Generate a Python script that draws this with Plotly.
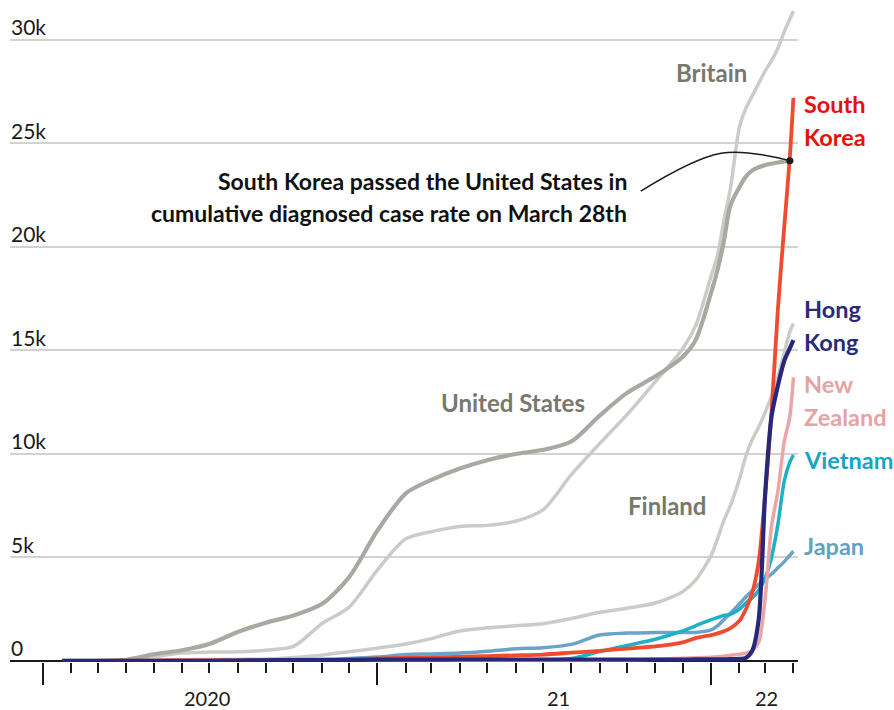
import pandas as pd
import plotly.graph_objects as go

# cumulative diagnosed cases per 100k people
DATES = [
    "2020-01-22", "2020-03-01", "2020-04-01", "2020-05-01", "2020-06-01", "2020-07-01",
    "2020-08-01", "2020-09-01", "2020-10-01", "2020-11-01", "2020-12-01", "2021-01-01",
    "2021-02-01", "2021-03-01", "2021-04-01", "2021-05-01", "2021-06-01", "2021-07-01",
    "2021-08-01", "2021-09-01", "2021-10-01", "2021-11-01", "2021-12-01", "2021-12-15",
    "2022-01-01", "2022-01-08", "2022-01-15", "2022-01-22", "2022-02-01", "2022-02-08",
    "2022-02-15", "2022-02-22", "2022-03-01", "2022-03-08", "2022-03-15", "2022-03-22",
    "2022-03-28", "2022-04-01",
]
UNITED_STATES = [
    0, 10, 60, 320, 520, 820, 1400, 1850, 2200, 2750, 4050, 6300,
    8100, 8750, 9300, 9700, 10000, 10200, 10600, 11850, 12950, 13750, 14700, 15500,
    17800, 18900, 20300, 22000, 22900, 23400, 23700, 23850, 23950, 24020, 24080, 24130,
    24170, 24200,
]
BRITAIN = [
    0, 5, 40, 200, 380, 430, 450, 520, 700, 1800, 2600, 4400,
    5900, 6250, 6500, 6550, 6750, 7300, 9000, 10500, 11900, 13500, 15100, 16200,
    18600, 19600, 21300, 22800, 25800, 26700, 27300, 27900, 28500, 29000, 29600, 30400,
    31000, 31400,
]
FINLAND = [
    0, 0, 10, 30, 60, 70, 80, 100, 170, 280, 450, 620,
    820, 1080, 1450, 1600, 1700, 1800, 2050, 2350, 2550, 2800, 3350, 3900,
    5100, 5900, 6800, 7500, 8800, 9900, 10700, 11300, 12000, 12800, 13700, 14900,
    15900, 16300,
]
SOUTH_KOREA = [
    0, 8, 19, 21, 22, 25, 28, 38, 45, 52, 65, 120,
    150, 175, 200, 235, 270, 310, 400, 490, 600, 700, 900, 1100,
    1250, 1330, 1430, 1580, 1950, 2500, 3300, 4800, 8000, 12000, 17000, 21000,
    24300, 27200,
]
HONG_KONG = [
    0, 0, 5, 8, 8, 10, 20, 35, 40, 45, 50, 60,
    65, 65, 70, 70, 70, 70, 70, 70, 70, 70, 70, 75,
    75, 75, 80, 85, 100, 150, 500, 2000, 8000, 11800, 13300, 14500,
    15100, 15500,
]
NEW_ZEALAND = [
    0, 0, 10, 15, 15, 15, 15, 18, 18, 18, 20, 20,
    20, 20, 22, 22, 22, 22, 22, 40, 50, 80, 130, 160,
    180, 200, 230, 280, 320, 380, 500, 900, 3000, 6500, 8200, 10600,
    11800, 13700,
]
VIETNAM = [
    0, 0, 0, 0, 0, 0, 1, 1, 1, 1, 1, 2,
    2, 3, 3, 3, 6, 20, 120, 450, 750, 1050, 1450, 1700,
    2000, 2100, 2200, 2250, 2500, 2800, 3050, 3400, 4000, 5000, 6600, 8700,
    9600, 9950,
]
JAPAN = [
    0, 1, 2, 10, 14, 15, 25, 55, 70, 80, 120, 190,
    310, 340, 380, 470, 590, 640, 800, 1250, 1350, 1370, 1375, 1380,
    1500, 1700, 2000, 2300, 2750, 3100, 3400, 3700, 3950, 4200, 4500, 4800,
    5100, 5300,
]

Y_TICKS = [0, 5000, 10000, 15000, 20000, 25000, 30000]
Y_TICK_TEXT = ["0", "5k", "10k", "15k", "20k", "25k", "30k"]
YEAR_LABELS = ["2020", "21", "22"]
YEAR_LABEL_DATES = ["2020-06-28", "2021-07-18", "2022-03-02"]

CROSSING_DATE = "2022-03-28"
CROSSING_VALUE = 24170
NOTE_LINES = ["South Korea passed the United States in",
              "cumulative diagnosed case rate on March 28th"]

FONT = "Lato, Open Sans, sans-serif"
GREY_TEXT = "#78786e"

# name, values, line colour, width, label lines, label colour, label placement
SERIES = [
    ("Finland", FINLAND, "#cbcbc7", 3.5, ["Finland"], GREY_TEXT, ("in", "2021-11-14", 7500)),
    ("Britain", BRITAIN, "#cbcbc7", 3.5, ["Britain"], GREY_TEXT, ("in", "2022-01-01", 28450)),
    ("United States", UNITED_STATES, "#a9a9a4", 4.2, ["United States"], GREY_TEXT, ("in", "2021-05-29", 12480)),
    ("Japan", JAPAN, "#6ba3c8", 3.5, ["Japan"], "#62a0c6", ("right", None, 5560)),
    ("Vietnam", VIETNAM, "#1fb0c9", 3.5, ["Vietnam"], "#14a4c4", ("right", None, 9730)),
    ("New Zealand", NEW_ZEALAND, "#eaa6a6", 3.5, ["New", "Zealand"], "#e5a3a3", ("right", None, 12600)),
    ("South Korea", SOUTH_KOREA, "#f04a2f", 3.8, ["South", "Korea"], "#e3120b", ("right", None, 26100)),
    ("Hong Kong", HONG_KONG, "#28287a", 4.2, ["Hong", "Kong"], "#2b2a78", ("right", None, 16230)),
]

LINE_GAP = 33

fig = go.Figure()
for name, values, color, width, lines, label_color, place in SERIES:
    fig.add_trace(
        go.Scatter(
            x=pd.to_datetime(DATES),
            y=values,
            mode="lines",
            name=name,
            line=dict(color=color, width=width, shape="spline", smoothing=0.8),
            hoverinfo="skip",
            showlegend=False,
        )
    )
    kind, x_pos, y_pos = place
    n = len(lines)
    for i, text in enumerate(lines):
        shift = ((n - 1) / 2 - i) * LINE_GAP
        if kind == "right":
            fig.add_annotation(x=1, xref="paper", xanchor="left", xshift=4, y=y_pos, yref="y",
                               yshift=shift, text=text, showarrow=False,
                               font=dict(family=FONT, size=23.5, color=label_color, weight="bold"))
        else:
            fig.add_annotation(x=x_pos, y=y_pos, yshift=shift, text=text, showarrow=False,
                               xanchor="center", font=dict(family=FONT, size=24, color=label_color, weight="bold"))

# leader line from the note to the crossing point
fig.add_trace(
    go.Scatter(
        x=["2021-10-16", "2022-01-12", CROSSING_DATE],
        y=[22700, 24530, CROSSING_VALUE],
        mode="lines",
        line=dict(color="#1a1a1a", width=1.5, shape="spline", smoothing=1.0),
        hoverinfo="skip",
        showlegend=False,
    )
)
fig.add_trace(
    go.Scatter(
        x=[CROSSING_DATE], y=[CROSSING_VALUE], mode="markers",
        marker=dict(color="#1a1a1a", size=7),
        hoverinfo="skip", showlegend=False,
    )
)
for i, text in enumerate(NOTE_LINES):
    fig.add_annotation(x="2021-10-03", y=22400, yshift=(0.5 - i) * 32, text=text, showarrow=False,
                       xanchor="right", font=dict(family=FONT, size=23, color="#111111", weight="bold"))

# year labels sit midway under each year, value labels sit on top of their gridlines
for label, when in zip(YEAR_LABELS, YEAR_LABEL_DATES):
    fig.add_annotation(x=when, y=0, yref="paper", yshift=-36, text=label, showarrow=False,
                       xanchor="center", yanchor="middle", font=dict(family=FONT, size=20, color="#1a1a1a"))
for value, label in zip(Y_TICKS, Y_TICK_TEXT):
    fig.add_annotation(x=0, xref="paper", xanchor="left", xshift=-1, y=value, yshift=13,
                       yanchor="middle", text=label, showarrow=False,
                       font=dict(family=FONT, size=21, color="#1a1a1a"))

fig.update_layout(
    width=894,
    height=710,
    margin=dict(l=10, r=96, t=0, b=48),
    plot_bgcolor="#ffffff",
    paper_bgcolor="#ffffff",
    font=dict(family=FONT, color="#1a1a1a", size=20),
    showlegend=False,
)
fig.update_xaxes(
    type="date",
    range=["2019-11-26", "2022-04-06"],
    tickmode="linear",
    tick0="2020-01-01",
    dtick="M12",
    ticks="outside",
    ticklen=22,
    tickwidth=1.5,
    tickcolor="#1a1a1a",
    showticklabels=False,
    showgrid=False,
    zeroline=False,
    showline=False,
    minor=dict(
        tickmode="array",
        tickvals=list(pd.date_range("2020-02-01", "2022-04-01", freq="MS")),
        ticks="outside",
        ticklen=10,
        tickwidth=1.5,
        tickcolor="#1a1a1a",
        showgrid=False,
    ),
)
fig.update_yaxes(
    range=[-50, 31930],
    tickmode="array",
    tickvals=Y_TICKS,
    ticks="",
    showticklabels=False,
    showgrid=True,
    gridcolor="#d2d2d2",
    gridwidth=1.5,
    zeroline=True,
    zerolinecolor="#1a1a1a",
    zerolinewidth=2,
    showline=False,
)

# drop the browser's default 8px body margin so the figure fills the window exactly
fig.write_html(
    "out.html",
    config={"displayModeBar": False},
    post_script="document.body.style.margin='0';",
)
